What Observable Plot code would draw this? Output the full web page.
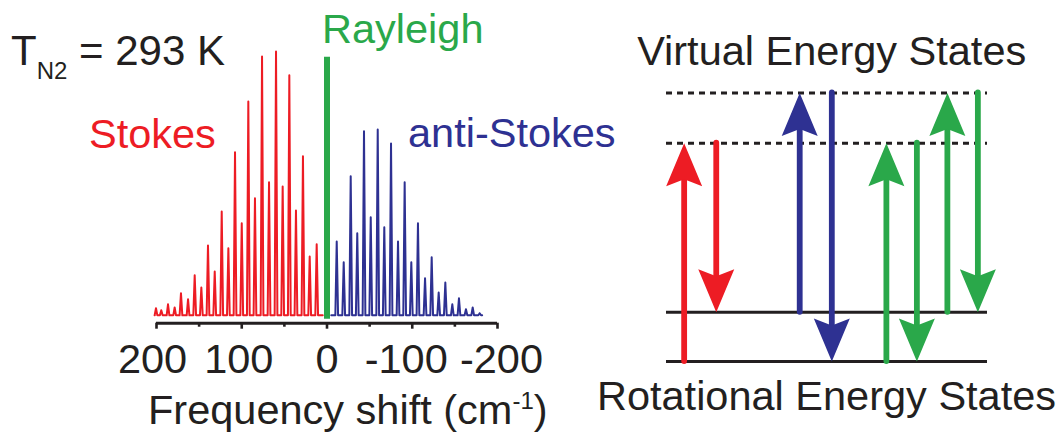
<!DOCTYPE html>
<html>
<head>
<meta charset="utf-8">
<script src="https://cdn.jsdelivr.net/npm/d3@7"></script>
<script src="https://cdn.jsdelivr.net/npm/@observablehq/plot@0.6"></script>
<style>
  html, body { margin: 0; padding: 0; background: #fff; }
  #fig { position: relative; width: 1060px; height: 432px; overflow: hidden; }
  #fig svg { position: absolute; left: 0; top: 0; }
</style>
</head>
<body>
<div id="fig"></div>
<script>
// Rotational Raman spectrum of N2 at 293 K (intensity in arbitrary units)
const stokesShift = [12.1, 20.3, 28.2, 36.4, 44.2, 52.0, 59.8, 68.0, 76.2, 84.5, 92.3, 100.0, 107.9, 115.7, 123.5, 131.7, 139.6, 147.4, 155.2, 163.0, 171.3, 178.7, 186.5, 194.4, 200.6];
const stokesIntensity = [27.0, 22.4, 60.5, 39.9, 91.3, 49.0, 100.4, 50.6, 98.5, 44.5, 81.4, 35.0, 62.0, 25.5, 39.5, 16.7, 26.6, 10.6, 15.2, 6.1, 8.4, 3.0, 4.2, 1.9, 2.7];
const stokesSpan = [5, 202];

const antiStokesShift = [-11.4, -19.6, -27.8, -35.5, -43.4, -51.3, -59.5, -67.2, -75.1, -83.3, -91.1, -98.9, -106.7, -115.0, -122.8, -131.0, -138.8, -147.0, -154.8, -163.0, -170.9, -179.1];
const antiStokesIntensity = [28.1, 20.2, 52.9, 31.2, 70.0, 37.3, 70.7, 33.5, 65.4, 28.1, 50.6, 20.2, 35.0, 14.1, 22.1, 8.7, 12.5, 4.2, 6.5, 2.3, 3.0, 0.8];
const antiStokesSpan = [-5, -182];

const rayleighShift = [0];
const rayleighIntensity = [98.2];

const majorTicks = [200, 100, 0, -100, -200];
const minorTicks = [150, 50, -50, -150];

// Energy-level diagram: level energies (arbitrary units) and transitions
const rotationalLevels = [0, 1];
const virtualLevels = [4.43, 5.45];
const transitionColumn = [0.55, 1.55, 4.15, 5.15, 6.85, 7.8, 8.75, 9.7];
const transitionFrom = [0, 4.43, 1, 5.45, 0, 4.43, 1, 5.45];
const transitionTo = [4.43, 1, 5.45, 0, 4.43, 0, 5.45, 1];
const transitionProcess = ["Stokes", "Stokes", "anti-Stokes", "anti-Stokes", "Rayleigh", "Rayleigh", "Rayleigh", "Rayleigh"];

const RED = "#ed1c24", BLUE = "#2e3192", GREEN = "#2aa84a", INK = "#231f20";
const processColor = {"Stokes": RED, "anti-Stokes": BLUE, "Rayleigh": GREEN};
const FONT = "'Liberation Sans', Arial, Helvetica, sans-serif";
const SIZE = 41.5;

// Each line is drawn as a narrow spike on a flat baseline
const halfWidth = 1.6;
function spikes(shifts, values, span) {
  const lines = shifts.map((s, i) => ({s, v: values[i]})).sort((a, b) => a.s - b.s);
  const pts = lines.flatMap(({s, v}) => [{s: s - halfWidth, v: 0}, {s, v}, {s: s + halfWidth, v: 0}]);
  const [a, b] = d3.extent(span);
  return [{s: a, v: 0}, ...pts, {s: b, v: 0}];
}

const yDomain = [-3, 100];
const spectrum = Plot.plot({
  width: 1060,
  height: 432,
  marginLeft: 156,
  marginRight: 563,
  marginTop: 52,
  marginBottom: 109.3,
  x: {domain: [200, -200], label: null},
  y: {domain: yDomain, axis: null, label: null},
  style: {fontFamily: FONT, fontSize: SIZE + "px", background: "transparent", overflow: "visible", color: INK},
  marks: [
    Plot.line(spikes(stokesShift, stokesIntensity, stokesSpan), {x: "s", y: "v", stroke: RED, strokeWidth: 2}),
    Plot.line(spikes(antiStokesShift, antiStokesIntensity, antiStokesSpan), {x: "s", y: "v", stroke: BLUE, strokeWidth: 2}),
    Plot.ruleX(rayleighShift, {x: d => d, y1: -1.5, y2: (d, i) => rayleighIntensity[i], stroke: GREEN, strokeWidth: 6}),
    Plot.ruleY([yDomain[0]], {stroke: INK, strokeWidth: 3}),
    Plot.axisX({ticks: minorTicks, tickSize: 4, strokeWidth: 2.6, stroke: INK, label: null, tickFormat: () => ""}),
    Plot.axisX({ticks: majorTicks, tickSize: 6, tickPadding: 14, strokeWidth: 2.6, stroke: INK, fill: INK, fontSize: SIZE, label: null, tickFormat: d => String(d)})
  ]
});

// Spread the crowded tick labels a little apart
const tickLabelNudge = {"200": -4, "100": -3, "0": 0, "-100": -6, "-200": 4};
d3.select(spectrum).selectAll("text").each(function () {
  const t = this.textContent;
  if (t in tickLabelNudge) this.setAttribute("dx", tickLabelNudge[t]);
});

// Filled, notched arrowheads; the origin is the tip
const upHead = {draw(ctx) { ctx.moveTo(0, 0); ctx.lineTo(18, 43); ctx.lineTo(0, 36); ctx.lineTo(-18, 43); ctx.closePath(); }};
const downHead = {draw(ctx) { ctx.moveTo(0, 0); ctx.lineTo(18, -43); ctx.lineTo(0, -36); ctx.lineTo(-18, -43); ctx.closePath(); }};

const transitions = transitionColumn.map((c, i) => ({
  column: c, from: transitionFrom[i], to: transitionTo[i], process: transitionProcess[i]
}));
const ups = transitions.filter(t => t.to > t.from);
const downs = transitions.filter(t => t.to < t.from);
const colorOf = t => processColor[t.process];

const diagram = Plot.plot({
  width: 1060,
  height: 432,
  marginLeft: 666,
  marginRight: 73,
  marginTop: 92.5,
  marginBottom: 71,
  x: {domain: [0, 10], axis: null, label: null},
  y: {domain: [0, 5.45], axis: null, label: null},
  color: {type: "identity"},
  style: {fontFamily: FONT, fontSize: SIZE + "px", background: "transparent", overflow: "visible"},
  marks: [
    Plot.ruleY(virtualLevels, {stroke: INK, strokeWidth: 2.8, strokeDasharray: "6,5"}),
    Plot.ruleY(rotationalLevels, {stroke: INK, strokeWidth: 3}),
    Plot.ruleX(ups, {x: "column", y1: "to", y2: "from", stroke: colorOf, strokeWidth: 5.8, strokeLinecap: "round", insetTop: 22}),
    Plot.ruleX(downs, {x: "column", y1: "from", y2: "to", stroke: colorOf, strokeWidth: 5.8, strokeLinecap: "round", insetBottom: 22}),
    Plot.dot(ups, {x: "column", y: "to", symbol: upHead, fill: colorOf, stroke: "none", r: 10}),
    Plot.dot(downs, {x: "column", y: "to", symbol: downHead, fill: colorOf, stroke: "none", r: 10})
  ]
});

// Labels
const labels = d3.create("svg")
  .attr("width", 1060).attr("height", 432)
  .attr("font-family", FONT).attr("font-size", SIZE)
  .style("overflow", "visible");

const title = labels.append("text").attr("x", 11).attr("y", 65).attr("fill", INK).attr("font-size", 42);
title.append("tspan").text("T");
title.append("tspan").attr("font-size", 24).attr("dy", 14).text("N2");
title.append("tspan").attr("dy", -14).text(" = 293 K");

labels.append("text").attr("x", 89).attr("y", 148).attr("fill", RED).text("Stokes");
labels.append("text").attr("x", 408).attr("y", 147.3).attr("fill", BLUE).text("anti-Stokes");
labels.append("text").attr("x", 322).attr("y", 43.3).attr("fill", GREEN).text("Rayleigh");

labels.append("text").attr("x", 831.7).attr("y", 65).attr("text-anchor", "middle").attr("fill", INK).text("Virtual Energy States");
labels.append("text").attr("x", 826.5).attr("y", 410).attr("text-anchor", "middle").attr("fill", INK).text("Rotational Energy States");

const xTitle = labels.append("text").attr("x", 148).attr("y", 424.3).attr("fill", INK).attr("font-size", SIZE);
xTitle.append("tspan").text("Frequency shift (cm");
xTitle.append("tspan").attr("font-size", 24).attr("dy", -15).text("-1");
xTitle.append("tspan").attr("dy", 15).text(")");

const fig = document.getElementById("fig");
fig.append(spectrum, diagram, labels.node());
</script>
</body>
</html>
